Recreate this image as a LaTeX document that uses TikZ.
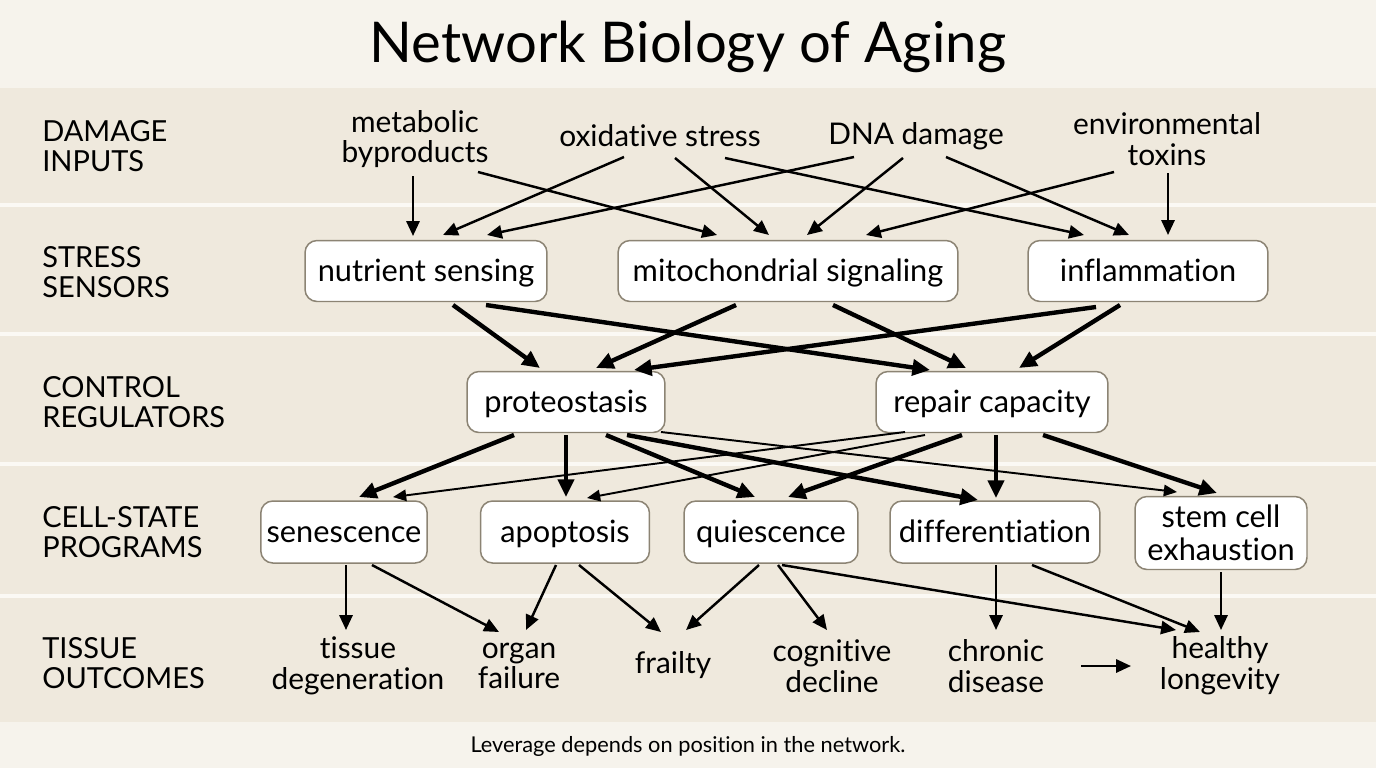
\documentclass[tikz,border=0pt]{standalone}
\usepackage{fontspec}
\setmainfont{Lato}[Ligatures=NoCommon]
\usetikzlibrary{arrows.meta,positioning}
\definecolor{pagebg}{HTML}{F6F3EC}
\definecolor{bandbg}{HTML}{EFE9DD}
\definecolor{sepline}{HTML}{FBF9F4}
\definecolor{boxline}{HTML}{8C8474}
\tikzset{
  box/.style={draw=boxline,line width=0.85pt,fill=white,rounded corners=0.24cm,minimum height=1.22cm,align=center,font=\fontsize{17.5}{18.5}\selectfont},
  onebox/.style={box,text height=14.5pt,text depth=2pt},
  term/.style={align=center,font=\fontsize{17}{17.5}\selectfont},
  rowlabel/.style={anchor=west,align=left,inner xsep=0pt,font=\fontsize{16.5}{17.5}\selectfont},
  arr/.style={line width=1.4pt,-{Triangle[length=8.5pt,width=7.5pt]}},
  thickarr/.style={line width=2.5pt,-{Triangle[length=10pt,width=9pt]}},
  thinarr/.style={line width=1.1pt,-{Triangle[length=7.5pt,width=6.5pt]}},
}

\begin{document}
\begin{tikzpicture}[x=0.02cm,y=-0.02cm]
% background and bands
\useasboundingbox (0,0) rectangle (1376,768);
\fill[pagebg] (0,0) rectangle (1376,768);
\fill[bandbg] (0,88) rectangle (1376,722);
\foreach \y in {205,334,464,596}
  \draw[sepline,line width=2.8pt] (0,\y) -- (1376,\y);

\node[anchor=base,font=\fontsize{32}{33}\selectfont] (head) at (688,62) {Network Biology of Aging};
\node[anchor=base,font=\fontsize{12.4}{13}\selectfont] (note) at (688,752) {Leverage depends on position in the network.};

% row labels
\node[rowlabel] (rowdmg) at (42,146) {DAMAGE\\INPUTS};
\node[rowlabel] (rowsen) at (42,272) {STRESS\\SENSORS};
\node[rowlabel] (rowctl) at (42,402) {CONTROL\\REGULATORS};
\node[rowlabel] (rowcel) at (42,532) {CELL-STATE\\PROGRAMS};
\node[rowlabel] (rowtis) at (42,663) {TISSUE\\OUTCOMES};

% damage inputs
\node[term] (met) at (415,139) {metabolic\\byproducts};
\node[term] (oxi) at (660,136) {oxidative stress};
\node[term] (dna) at (916,136) {DNA damage};
\node[term] (env) at (1167,139) {environmental\\toxins};

% sensors
\node[onebox,minimum width=4.84cm] (nutr) at (426,271) {nutrient sensing};
\node[onebox,minimum width=6.8cm] (mito) at (788,271) {mitochondrial signaling};
\node[onebox,minimum width=4.8cm] (infl) at (1148,271) {inflammation};

% regulators
\node[onebox,minimum width=3.96cm] (prot) at (566,402) {proteostasis};
\node[onebox,minimum width=4.64cm] (rep) at (992,402) {repair capacity};

% programs
\node[onebox,minimum width=3.32cm,minimum height=1.24cm] (sen) at (344,532) {senescence};
\node[onebox,minimum width=3.38cm,minimum height=1.24cm] (apo) at (565,532) {apoptosis};
\node[onebox,minimum width=3.48cm,minimum height=1.24cm] (qui) at (771,532) {quiescence};
\node[onebox,minimum width=4.2cm,minimum height=1.24cm] (dif) at (995,532) {differentiation};
\node[box,minimum width=3.44cm,minimum height=1.46cm] (stem) at (1221,533) {stem cell\\exhaustion};

% outcomes
\node[term] (tis) at (358,666) {tissue\\degeneration};
\node[term] (org) at (519,666) {organ\\failure};
\node[term] (fra) at (673,665) {frailty};
\node[term] (cog) at (832,666) {cognitive\\decline};
\node[term] (chr) at (996,666) {chronic\\disease};
\node[term] (hea) at (1220,666) {healthy\\longevity};

% inputs -> sensors
\draw[arr] ([shift={(-2,37)}]met.center) -- ([shift={(-13,-35)}]nutr.center);
\draw[arr] ([shift={(63,33)}]met.center) -- ([shift={(-71,-36)}]mito.center);
\draw[arr] ([shift={(-36,21)}]oxi.center) -- ([shift={(17,-36)}]nutr.center);
\draw[arr] ([shift={(15,22)}]oxi.center) -- ([shift={(-19,-36)}]mito.center);
\draw[arr] ([shift={(65,22)}]oxi.center) -- ([shift={(-64,-36)}]infl.center);
\draw[arr] ([shift={(-62,21)}]dna.center) -- ([shift={(61,-36)}]nutr.center);
\draw[arr] ([shift={(-13,22)}]dna.center) -- ([shift={(19,-36)}]mito.center);
\draw[arr] ([shift={(30,21)}]dna.center) -- ([shift={(-19,-36)}]infl.center);
\draw[arr] ([shift={(-53,33)}]env.center) -- ([shift={(78,-36)}]mito.center);
\draw[arr] ([shift={(1,34)}]env.center) -- ([shift={(20,-36)}]infl.center);

% sensors -> regulators
\draw[thickarr] ([shift={(27,34)}]nutr.center) -- ([shift={(-26,-34)}]prot.center);
\draw[thickarr] ([shift={(60,34)}]nutr.center) -- ([shift={(-62,-32)}]rep.center);
\draw[thickarr] ([shift={(-52,34)}]mito.center) -- ([shift={(30,-34)}]prot.center);
\draw[thickarr] ([shift={(45,34)}]mito.center) -- ([shift={(-26,-34)}]rep.center);
\draw[thickarr] ([shift={(-52,36)}]infl.center) -- ([shift={(68,-32)}]prot.center);
\draw[thickarr] ([shift={(-28,34)}]infl.center) -- ([shift={(27,-34)}]rep.center);

% regulators -> programs
\draw[thickarr] ([shift={(-52,33)}]prot.center) -- ([shift={(15,-35)}]sen.center);
\draw[thickarr] ([shift={(0,33)}]prot.center) -- ([shift={(1,-35)}]apo.center);
\draw[thickarr] ([shift={(40,33)}]prot.center) -- ([shift={(-16,-35)}]qui.center);
\draw[thickarr] ([shift={(61,33)}]prot.center) -- ([shift={(-17,-32)}]dif.center);
\draw[thinarr] ([shift={(95,30)}]prot.center) -- ([shift={(-44,-41)}]stem.center);
\draw[thinarr] ([shift={(-87,30)}]rep.center) -- ([shift={(49,-35)}]sen.center);
\draw[thinarr] ([shift={(-67,33)}]rep.center) -- ([shift={(22,-34)}]apo.center);
\draw[thickarr] ([shift={(-30,33)}]rep.center) -- ([shift={(17,-35)}]qui.center);
\draw[thickarr] ([shift={(4,33)}]rep.center) -- ([shift={(1,-34)}]dif.center);
\draw[thickarr] ([shift={(51,33)}]rep.center) -- ([shift={(-4,-40)}]stem.center);

% programs -> outcomes
\draw[arr] ([shift={(2,33)}]sen.center) -- ([shift={(-12,-36)}]tis.center);
\draw[arr] ([shift={(28,33)}]sen.center) -- ([shift={(-20,-34)}]org.center);
\draw[arr] ([shift={(-9,33)}]apo.center) -- ([shift={(7,-36)}]org.center);
\draw[arr] ([shift={(14,33)}]apo.center) -- ([shift={(-12,-33)}]fra.center);
\draw[arr] ([shift={(-12,33)}]qui.center) -- ([shift={(13,-35)}]fra.center);
\draw[arr] ([shift={(7,33)}]qui.center) -- ([shift={(-5,-36)}]cog.center);
\draw[arr] ([shift={(11,33)}]qui.center) -- ([shift={(-44,-36)}]hea.center);
\draw[arr] ([shift={(1,33)}]dif.center) -- ([shift={(0,-36)}]chr.center);
\draw[arr] ([shift={(37,33)}]dif.center) -- ([shift={(-20,-34)}]hea.center);
\draw[arr] ([shift={(0,39)}]stem.center) -- ([shift={(1,-36)}]hea.center);
\draw[arr] ([shift={(85,0)}]chr.center) -- ([shift={(-89,0)}]hea.center);
\end{tikzpicture}
\end{document}
